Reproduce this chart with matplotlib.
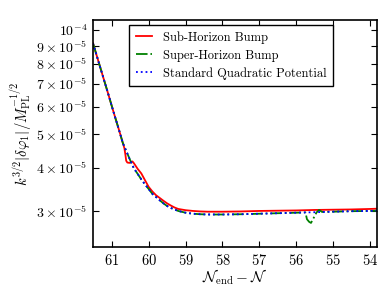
import matplotlib
matplotlib.use("Agg")
import matplotlib.pyplot as plt
from matplotlib.ticker import FixedLocator, FuncFormatter, MultipleLocator, NullLocator
import math

plt.rcParams['mathtext.fontset'] = 'cm'
plt.rcParams['font.family'] = ['cmr10', 'DejaVu Serif']
plt.rcParams['axes.unicode_minus'] = False

# standard quadratic potential
n_std = [61.51, 61.3, 61.1, 60.95, 60.8, 60.7, 60.6, 60.5, 60.4, 60.3, 60.2,
         60.1, 60.0, 59.9, 59.8, 59.7, 59.6, 59.5, 59.4, 59.3, 59.2, 59.0,
         58.8, 58.6, 58.4, 58.0, 57.5, 57.0, 56.5, 56.0, 55.5, 55.0, 54.5,
         54.0, 53.81]
amp_std = [9.16e-5, 7.71e-5, 6.55e-5, 5.78e-5, 5.12e-5, 4.71e-5, 4.45e-5,
           4.20e-5, 3.98e-5, 3.84e-5, 3.70e-5, 3.58e-5, 3.47e-5, 3.36e-5,
           3.29e-5, 3.22e-5, 3.155e-5, 3.10e-5, 3.06e-5, 3.03e-5, 3.00e-5,
           2.965e-5, 2.945e-5, 2.935e-5, 2.93e-5, 2.93e-5, 2.935e-5, 2.945e-5,
           2.955e-5, 2.965e-5, 2.975e-5, 2.985e-5, 2.995e-5, 3.00e-5, 3.005e-5]

# sub-horizon bump
n_sub = [61.51, 61.3, 61.1, 60.95, 60.8, 60.7, 60.66, 60.63, 60.61, 60.58,
         60.52, 60.47, 60.44, 60.40, 60.3, 60.2, 60.1, 60.0, 59.9, 59.8, 59.7,
         59.6, 59.5, 59.4, 59.3, 59.2, 59.0, 58.8, 58.6, 58.4, 58.0, 57.5,
         57.0, 56.5, 56.0, 55.5, 55.0, 54.5, 54.0, 53.81]
amp_sub = [9.16e-5, 7.71e-5, 6.55e-5, 5.78e-5, 5.12e-5, 4.71e-5, 4.56e-5,
           4.35e-5, 4.19e-5, 4.14e-5, 4.13e-5, 4.16e-5, 4.17e-5, 4.12e-5,
           3.97e-5, 3.85e-5, 3.68e-5, 3.52e-5, 3.415e-5, 3.33e-5, 3.27e-5,
           3.21e-5, 3.155e-5, 3.11e-5, 3.07e-5, 3.04e-5, 3.015e-5, 3.0e-5,
           2.99e-5, 2.985e-5, 2.985e-5, 2.99e-5, 3.0e-5, 3.005e-5, 3.01e-5,
           3.02e-5, 3.025e-5, 3.03e-5, 3.04e-5, 3.045e-5]

# super-horizon bump
n_sup = [61.51, 61.3, 61.1, 60.95, 60.8, 60.7, 60.6, 60.5, 60.4, 60.3, 60.2,
         60.1, 60.0, 59.9, 59.8, 59.7, 59.6, 59.5, 59.4, 59.3, 59.2, 59.0,
         58.8, 58.6, 58.4, 58.0, 57.5, 57.0, 56.5, 56.0, 55.75, 55.71, 55.65,
         55.6, 55.5, 55.45, 55.38, 55.3, 55.0, 54.5, 54.0, 53.81]
amp_sup = [9.16e-5, 7.71e-5, 6.55e-5, 5.78e-5, 5.12e-5, 4.71e-5, 4.45e-5,
           4.20e-5, 3.98e-5, 3.84e-5, 3.70e-5, 3.58e-5, 3.47e-5, 3.36e-5,
           3.29e-5, 3.22e-5, 3.155e-5, 3.10e-5, 3.06e-5, 3.03e-5, 3.00e-5,
           2.965e-5, 2.945e-5, 2.935e-5, 2.93e-5, 2.93e-5, 2.935e-5, 2.945e-5,
           2.955e-5, 2.965e-5, 2.97e-5, 2.84e-5, 2.79e-5, 2.77e-5, 2.90e-5,
           2.97e-5, 3.02e-5, 2.98e-5, 2.985e-5, 2.995e-5, 3.00e-5, 3.005e-5]

y_ticks = [3e-5, 4e-5, 5e-5, 6e-5, 7e-5, 8e-5, 9e-5, 1e-4]


def sci_label(v, pos):
    e = int(math.floor(math.log10(v) + 1e-9))
    m = v / 10 ** e
    if abs(m - 1) < 1e-6:
        return r'$10^{%d}$' % e
    return r'$%d\times10^{%d}$' % (round(m), e)


fig = plt.figure(figsize=(3.88, 2.91), dpi=100)
ax = fig.add_axes([0.2397, 0.1512, 0.732, 0.7801])

ax.plot(n_sub, amp_sub, color='r', lw=1.3, label='Sub-Horizon Bump')
ax.plot(n_sup, amp_sup, color='g', lw=1.3, ls='-.', label='Super-Horizon Bump')
ax.plot(n_std, amp_std, color='b', lw=1.3, ls=':', label='Standard Quadratic Potential')

ax.set_yscale('log')
ax.set_xlim(61.51, 53.81)
ax.set_ylim(2.36e-5, 1.069e-4)

ax.yaxis.set_major_locator(FixedLocator(y_ticks))
ax.yaxis.set_minor_locator(NullLocator())
ax.yaxis.set_major_formatter(FuncFormatter(sci_label))
ax.xaxis.set_major_locator(MultipleLocator(1))
ax.xaxis.set_major_formatter(FuncFormatter(lambda v, p: r'$%d$' % round(v)))

ax.tick_params(direction='in', top=True, right=True, length=4, width=0.8,
               labelsize=10, pad=4)
ax.tick_params(axis='x', labelsize=10.5)
for s in ax.spines.values():
    s.set_linewidth(1.2)

ax.set_xlabel(r'$\mathcal{N}_{\rm end}-\mathcal{N}$', fontsize=11, labelpad=0)
ax.set_ylabel(r'$k^{3/2}|\delta\varphi_1|/M_{\rm PL}^{-1/2}$', fontsize=10.5,
              labelpad=2)

leg = ax.legend(loc='upper right', bbox_to_anchor=(0.845, 0.978),
                borderaxespad=0, fontsize=9, handlelength=1.3,
                handletextpad=0.9, borderpad=0.5,
                fancybox=False, framealpha=1, labelspacing=0.45)
leg.get_frame().set_edgecolor('black')
leg.get_frame().set_linewidth(1.0)

fig.savefig('out.png', dpi=100)
